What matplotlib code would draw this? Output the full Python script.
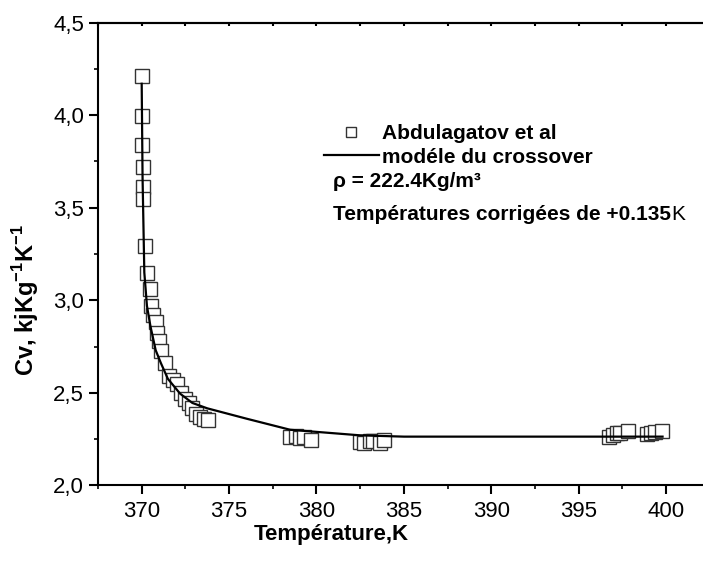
import numpy as np
import matplotlib
matplotlib.use("Agg")
import matplotlib.pyplot as plt
from matplotlib.ticker import MultipleLocator, FuncFormatter

plt.rcParams['font.family'] = ['Liberation Sans', 'DejaVu Sans']
plt.rcParams['mathtext.fontset'] = 'custom'
plt.rcParams['mathtext.rm'] = 'Liberation Sans'
plt.rcParams['mathtext.bf'] = 'Liberation Sans:bold'

# experimental points (Abdulagatov et al)
T_exp = [370.0, 370.02, 370.03, 370.05, 370.07, 370.1, 370.19, 370.3, 370.48,
         370.53, 370.67, 370.8, 370.9, 371.0, 371.13, 371.35, 371.56, 371.81,
         372.02, 372.23, 372.46, 372.7, 372.9, 373.13, 373.31, 373.58, 373.79,
         378.51, 378.8, 379.05, 379.31, 379.66,
         382.48, 382.7, 383.05, 383.24, 383.62, 383.85,
         396.76, 396.95, 397.18, 397.37, 397.85,
         398.93, 399.13, 399.37, 399.75]
Cv_exp = [4.214, 3.996, 3.838, 3.722, 3.614, 3.549, 3.294, 3.146, 3.063,
          2.969, 2.921, 2.884, 2.825, 2.780, 2.726, 2.661, 2.591, 2.571,
          2.548, 2.501, 2.465, 2.443, 2.416, 2.385, 2.367, 2.357, 2.353,
          2.263, 2.268, 2.254, 2.259, 2.245,
          2.236, 2.230, 2.239, 2.241, 2.230, 2.245,
          2.263, 2.272, 2.281, 2.284, 2.295,
          2.277, 2.284, 2.290, 2.293]

# crossover model curve
T_mod = [370.0, 370.05, 370.15, 370.3, 370.5, 370.8, 371.1, 371.5, 372.2,
         372.9, 373.75, 376.0, 378.5, 382.5, 385.0, 399.8]
Cv_mod = [4.17, 3.66, 3.15, 2.97, 2.86, 2.73, 2.66, 2.575, 2.495,
          2.445, 2.416, 2.36, 2.300, 2.270, 2.263, 2.263]

fig = plt.figure(figsize=(7.03, 5.66), dpi=100)
ax = fig.add_axes([98 / 703, 80.7 / 566, 611.75 / 703, 462.6 / 566])

ax.plot(T_exp, Cv_exp, 's', ms=10, mfc='white', mec='#333333', mew=1.0,
        zorder=2, label='Abdulagatov et al')
ax.plot(T_mod, Cv_mod, '-', color='black', lw=1.6, zorder=3,
        label='modéle du crossover')

ax.set_xlim(367.5, 402.5)
ax.set_ylim(2.0, 4.5)
ax.xaxis.set_major_locator(MultipleLocator(5))
ax.xaxis.set_minor_locator(MultipleLocator(2.5))
ax.yaxis.set_major_locator(MultipleLocator(0.5))
ax.yaxis.set_minor_locator(MultipleLocator(0.25))
ax.yaxis.set_major_formatter(FuncFormatter(lambda v, p: ('%.1f' % v).replace('.', ',')))

for s in ax.spines.values():
    s.set_linewidth(1.5)
ax.tick_params(which='major', direction='out', length=6.5, width=1.5, labelsize=16,
               top=False, right=False)
ax.tick_params(which='minor', direction='out', length=3, width=1.2, top=False, right=False)
ax.tick_params(axis='x', which='major', pad=5)

# tiny inward marks on the top spine
top = ax.secondary_xaxis('top')
top.xaxis.set_major_locator(MultipleLocator(2.5))
top.tick_params(direction='in', length=2, width=1.5, labeltop=False)
top.spines['top'].set_linewidth(1.5)

ax.set_xlabel('Température,K', fontsize=16, fontweight='bold')
ax.set_ylabel(r'Cv, kjKg$^{\mathbf{-1}}$K$^{\mathbf{-1}}$', fontsize=17, fontweight='bold')
ax.xaxis.set_label_coords(0.381, -0.084)
ax.yaxis.set_label_coords(-0.093, 0.40)

leg = ax.legend(loc='upper left', bbox_to_anchor=(0.37, 0.78), frameon=False,
                prop={'weight': 'bold', 'size': 15}, handlelength=2.6,
                handletextpad=0.15, labelspacing=0.2, markerscale=0.75,
                borderpad=0, borderaxespad=0)

ax.text(0.384, 0.644, 'ρ = 222.4Kg/m³', transform=ax.transAxes, fontsize=15,
        fontweight='bold', va='baseline')
t = ax.text(0.384, 0.574, 'Températures corrigées de +0.135', transform=ax.transAxes,
            fontsize=15, fontweight='bold', va='baseline')
ax.annotate('K', xy=(1, 0), xycoords=t, va='bottom', fontsize=15)

fig.savefig('out.png', dpi=100)
